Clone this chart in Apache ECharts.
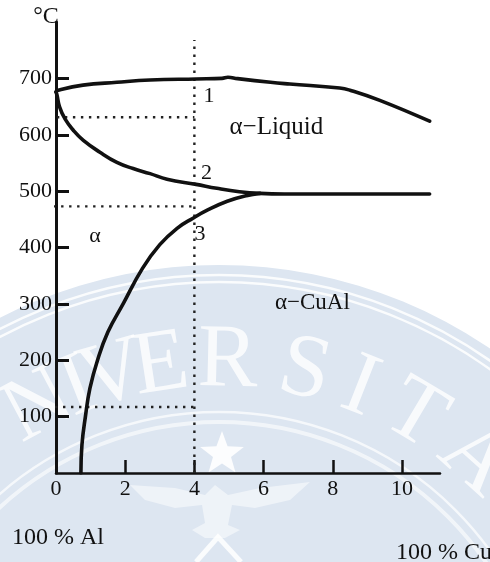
<!DOCTYPE html>
<html>
<head>
<meta charset="utf-8">
<script src="https://cdn.jsdelivr.net/npm/echarts@6/dist/echarts.min.js"></script>
<style>
html,body{margin:0;padding:0;background:#fff;}
#chart{width:490px;height:562px;}
</style>
</head>
<body>
<div id="chart"></div>
<script>
// ---- data (wt % Cu, temperature °C) ----
const xTickLabels = [0, 2, 4, 6, 8, 10];
const xTickMarks = [2, 4, 6, 8, 10];
const yTickLabels = [100, 200, 300, 400, 500, 600, 700];

const liquidus = [[0,676],[0.06,679],[0.78,688],[1.76,693],[2.72,697],[4.05,699],[4.8,700],[4.97,702],[5.25,699.5],[6.2,693],[6.76,690],[8.2,683],[8.5,679],[9.36,661],[10.8,624]];
const solidus = [[0,676],[0.03,670],[0.1,650],[0.26,628],[0.5,608],[0.79,590],[1.27,569],[1.76,551],[2.23,540],[2.72,531],[3.21,521],[4.05,512],[4.65,505],[5.3,499],[5.9,496],[6.6,495],[8.5,495],[10.8,495]];
const solvus = [[0.72,0],[0.75,50],[0.85,100],[0.98,150],[1.2,200],[1.5,250],[1.94,300],[2.5,363],[3.0,405],[3.5,434],[3.96,452],[4.4,467],[4.95,482],[5.5,492],[5.9,496]];

const guideVertical = [[4,0],[4,768]];
const guide631 = [[-1.13,631],[4,631]];
const guide473 = [[-1.24,473],[4,473]];
const guide117 = [[-0.26,117],[4,117]];

const annoText = ['1', '2', '3', 'α−Liquid', 'α', 'α−CuAl'];
const annoX = [4.42, 4.35, 4.16, 6.37, 1.13, 7.41];
const annoY = [669, 531, 424, 613, 420, 301];

// ---- chart ----
const chart = echarts.init(document.getElementById('chart'), null, {renderer: 'canvas'});
const SERIF = '"Liberation Serif", "Times New Roman", serif';
const INK = '#111111';

// watermark (decorative seal)
const cx = 219, cy = 746;
const wm = [];
wm.push({type:'circle', z:-20, silent:true, shape:{cx:cx, cy:cy, r:481}, style:{fill:'#dde6f1'}});
wm.push({type:'circle', z:-19, silent:true, shape:{cx:cx, cy:cy, r:471}, style:{fill:'none', stroke:'rgba(255,255,255,0.85)', lineWidth:2.5}});
wm.push({type:'circle', z:-19, silent:true, shape:{cx:cx, cy:cy, r:464}, style:{fill:'none', stroke:'rgba(255,255,255,0.85)', lineWidth:2.5}});
wm.push({type:'circle', z:-19, silent:true, shape:{cx:cx, cy:cy, r:334}, style:{fill:'none', stroke:'rgba(255,255,255,0.7)', lineWidth:2.5}});
wm.push({type:'circle', z:-19, silent:true, shape:{cx:cx, cy:cy, r:324}, style:{fill:'none', stroke:'rgba(255,255,255,0.6)', lineWidth:4}});
const letterSet = [['U',-40],['N',-28],['I',-21.5],['V',-16],['E',-8.7],['R',1.3],['S',12.9],['I',21.5],['T',30.7],['A',41.8]];
letterSet.forEach(function(p){
  const a = p[1] * Math.PI / 180;
  const R = 384;
  wm.push({type:'text', z:-18, silent:true,
    x: cx + R * Math.sin(a), y: cy - R * Math.cos(a), rotation: -a,
    style:{text:p[0], fill:'rgba(255,255,255,0.8)', font:'90px ' + SERIF,
      textAlign:'center', textVerticalAlign:'middle', align:'center', verticalAlign:'middle'}});
});
// star
(function(){
  const pts = [];
  const sx = 222, sy = 454, ro = 23, ri = 9.5;
  for (let i = 0; i < 10; i++) {
    const r = i % 2 === 0 ? ro : ri;
    const a = -Math.PI/2 + i * Math.PI/5;
    pts.push([sx + r*Math.cos(a), sy + r*Math.sin(a)]);
  }
  wm.push({type:'polygon', z:-18, silent:true, shape:{points:pts}, style:{fill:'rgba(255,255,255,0.9)'}});
})();
// wings / emblem
wm.push({type:'polygon', z:-18, silent:true, shape:{points:[[130,485],[175,488],[205,495],[215,485],[228,495],[260,488],[310,482],[290,500],[255,508],[232,505],[228,525],[240,530],[225,538],[205,538],[192,530],[205,523],[202,505],[175,508],[145,500]]}, style:{fill:'rgba(255,255,255,0.5)'}});
wm.push({type:'polyline', z:-18, silent:true, shape:{points:[[196,562],[218,537],[241,562]]}, style:{stroke:'rgba(255,255,255,0.85)', lineWidth:5, fill:'none'}});

// plain texts outside the plot
wm.push({type:'text', z:5, x:46, y:17, style:{text:'°C', fill:INK, font:'24px ' + SERIF, textAlign:'center', textVerticalAlign:'middle', align:'center', verticalAlign:'middle'}});
wm.push({type:'text', z:5, x:12, y:538, style:{text:'100 % Al', fill:INK, font:'24px ' + SERIF, textAlign:'left', textVerticalAlign:'middle', align:'left', verticalAlign:'middle'}});
wm.push({type:'text', z:5, x:396, y:553, style:{text:'100 % Cu', fill:INK, font:'24px ' + SERIF, textAlign:'left', textVerticalAlign:'middle', align:'left', verticalAlign:'middle'}});

function curve(data) {
  return {type:'line', data:data, smooth:0.45, symbol:'none', silent:true,
    lineStyle:{color:INK, width:3.6, cap:'round', join:'round'}, z:3};
}
function guide(data) {
  return {type:'line', data:data, symbol:'none', silent:true, clip:false,
    lineStyle:{color:'#222', width:2.4, type:[2.4,5.6]}, z:2};
}

const annoData = annoText.map(function(t, i){
  return {name:t, value:[annoX[i], annoY[i]],
    label:{fontSize: t === 'α−Liquid' ? 25 : (t.length > 1 ? 23 : 22)}};
});

chart.setOption({
  animation:false,
  backgroundColor:'#ffffff',
  graphic:{elements:wm},
  grid:{left:56, right:50, top:22, bottom:89, containLabel:false},
  xAxis:{
    type:'value', min:0, max:11.1, interval:2,
    axisLine:{show:true, onZero:false, lineStyle:{color:INK, width:2.5}},
    axisTick:{show:true, inside:true, length:13, customValues:xTickMarks, lineStyle:{color:INK, width:2.5}},
    axisLabel:{show:true, margin:5, customValues:xTickLabels, color:INK, fontFamily:SERIF, fontSize:22},
    splitLine:{show:false}
  },
  yAxis:{
    type:'value', min:0, max:800, interval:100,
    axisLine:{show:true, onZero:false, lineStyle:{color:INK, width:3}},
    axisTick:{show:true, inside:true, length:13, customValues:yTickLabels, lineStyle:{color:INK, width:3}},
    axisLabel:{show:true, margin:4, customValues:yTickLabels, color:INK, fontFamily:SERIF, fontSize:22},
    splitLine:{show:false}
  },
  series:[
    guide(guideVertical), guide(guide631), guide(guide473), guide(guide117),
    curve(liquidus), curve(solidus), curve(solvus),
    {type:'scatter', data:annoData, symbolSize:0, silent:true, z:4,
      itemStyle:{opacity:1},
      label:{show:true, position:'inside', formatter:'{b}', color:INK, opacity:1,
        textBorderWidth:0, fontFamily:SERIF, fontSize:23}}
  ]
});
</script>
</body>
</html>
